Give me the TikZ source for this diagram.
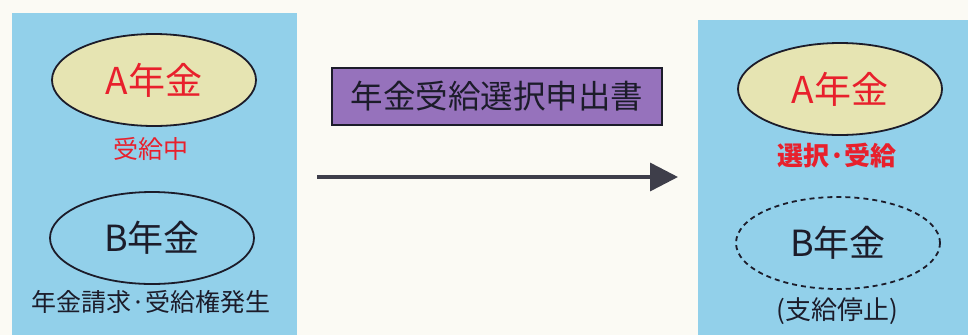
\documentclass[tikz,border=0pt]{standalone}
\usepackage{fontspec}
\setmainfont{Noto Sans CJK JP}
\usetikzlibrary{arrows.meta,shapes.geometric}
\definecolor{bgc}{HTML}{FBFAF4}
\definecolor{panel}{HTML}{92D0EA}
\definecolor{ylw}{HTML}{E6E4B2}
\definecolor{purp}{HTML}{9672BC}
\definecolor{redt}{HTML}{E8202C}
\definecolor{dark}{HTML}{1C1C2A}
\tikzset{
  panelbox/.style={fill=panel, draw=none},
  ell/.style={ellipse, draw=dark, line width=1.8pt, minimum width=204pt, minimum height=92pt, inner sep=0pt},
  biga/.style={font=\fontsize{37}{40}\selectfont},
  bigb/.style={font=\fontsize{36}{40}\selectfont},
  lbl/.style={inner sep=0pt},
}
\begin{document}
\begin{tikzpicture}[x=1pt,y=-1pt]
\useasboundingbox (0,0) rectangle (968,335);
\fill[bgc] (0,0) rectangle (968,335);
% panels
\fill[panelbox] (12,13) rectangle (297,335);
\fill[panelbox] (698,20) rectangle (968,335);
% left
\node[ell, fill=ylw, text=redt, biga] (la) at (154,80) {A年金};
\node[lbl, text=redt, font=\fontsize{25}{27}\selectfont] (lat) at (151,149) {受給中};
\node[ell, fill=panel, text=dark, bigb] (lb) at (152,238) {B年金};
\node[lbl, text=dark, font=\fontsize{25}{27}\selectfont] (lbt) at (151,302) {年金請求·受給権発生};
% middle
\node[draw=dark, line width=2pt, fill=purp, text=dark, minimum width=330pt, minimum height=57pt, inner sep=0pt, font=\fontsize{32.5}{34}\selectfont] (form) at (497,96) {年金受給選択申出書};
\coordinate (as) at (317,177);
\coordinate (ae) at (678,177);
\draw[dark!85, line width=3.5pt, -{Triangle[length=28pt,width=28pt]}] (as) -- (ae);
% right
\node[ell, fill=ylw, text=redt, biga] (ra) at (840,89) {A年金};
\node[lbl, text=redt, font=\bfseries\fontsize{26}{28}\selectfont] (rat) at (837,156) {選択·受給};
\node[ell, fill=panel, text=dark, bigb, dashed, dash pattern=on 5pt off 4pt] (rb) at (838,243) {B年金};
\node[lbl, text=dark, font=\fontsize{26}{28}\selectfont] (rbt) at (837,311) {(支給停止)};
\end{tikzpicture}
\end{document}
